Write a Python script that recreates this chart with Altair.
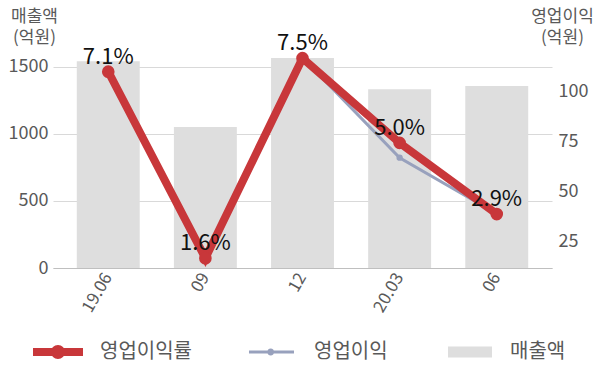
import altair as alt
import pandas as pd

periods = ["19.06", "09", "12", "20.03", "06"]
revenue = [1542, 1052, 1567, 1334, 1358]        # 매출액 (억원)
profit = [110, 17, 117, 67, 39]                 # 영업이익 (억원)
margin = [7.1, 1.6, 7.5, 5.0, 2.9]              # 영업이익률 (%)
legend_names = ["영업이익률", "영업이익", "매출액"]

df = pd.DataFrame({
    "period": periods,
    "revenue": revenue,
    "profit": profit,
    "margin": margin,
    "label": [f"{m:.1f}%" for m in margin],
})
leg_df = pd.DataFrame({"series": legend_names})

FONT = "Noto Sans CJK KR"
RED = "#c8373a"
GRAY_LINE = "#98a1bd"
BAR = "#dedede"
TXT = "#595959"

x = alt.X("period:N", sort=periods, title=None,
          scale=alt.Scale(paddingInner=0.352, paddingOuter=0.245),
          axis=alt.Axis(labelAngle=-60, labelAlign="right", labelBaseline="middle",
                        labelFontSize=17, labelColor=TXT, labelPadding=6,
                        ticks=False, domain=True, domainColor="#bfbfbf", grid=False))

base = alt.Chart(df)

bars = base.mark_bar(color=BAR).encode(
    x=x,
    y=alt.Y("revenue:Q", scale=alt.Scale(domain=[0, 1850], nice=False, zero=False),
            axis=alt.Axis(orient="left", values=[0, 500, 1000, 1500], format="d", grid=True,
                          gridColor="#d9d9d9", domain=False, ticks=False,
                          labelFontSize=18, labelColor=TXT, labelPadding=5,
                          title=["매출액", "(억원)"], titleAngle=0, titleX=-19, titleY=1.5,
                          titleAlign="center", titleBaseline="alphabetic", titleFontSize=17,
                          titleFontWeight="normal", titleColor=TXT, titleLineHeight=21)),
)

pscale = alt.Scale(domain=[11.85, 135.85], nice=False, zero=False)
gray_line = base.mark_line(color=GRAY_LINE, strokeWidth=3).encode(
    x=x,
    y=alt.Y("profit:Q", scale=pscale,
            axis=alt.Axis(orient="right", values=[25, 50, 75, 100], grid=False,
                          domain=False, ticks=False, labelFontSize=18, labelColor=TXT,
                          labelPadding=6,
                          title=["영업이익", "(억원)"], titleAngle=0, titleX=10, titleY=1.5,
                          titleAlign="center", titleBaseline="alphabetic", titleFontSize=17,
                          titleFontWeight="normal", titleColor=TXT, titleLineHeight=21)),
)
gray_pts = base.mark_point(color=GRAY_LINE, filled=True, size=40, opacity=1).encode(
    x=x, y=alt.Y("profit:Q", scale=pscale, axis=None))

mscale = alt.Scale(domain=[1.31, 8.625], nice=False, zero=False)
red_line = base.mark_line(color=RED, strokeWidth=8).encode(
    x=x, y=alt.Y("margin:Q", scale=mscale, axis=None))
red_pts = base.mark_point(color=RED, filled=True, size=160, opacity=1).encode(
    x=x, y=alt.Y("margin:Q", scale=mscale, axis=None))
labels = base.mark_text(fontSize=22, font=FONT, color="#111111", dy=-8,
                        baseline="alphabetic", align="center").encode(
    x=x, y=alt.Y("margin:Q", scale=mscale, axis=None), text="label:N")

red_path = ("M-1.033,-0.133 H0.633 V0.133 H-1.033 Z "
            "M0.033,0 A0.233,0.233 0 1,1 -0.433,0 A0.233,0.233 0 1,1 0.033,0 Z")
gray_path = ("M-0.967,-0.05 H0.533 V0.05 H-0.967 Z "
             "M-0.126,0 A0.117,0.117 0 1,1 -0.36,0 A0.117,0.117 0 1,1 -0.126,0 Z")
rect_path = "M-0.867,-0.183 H0.6 V0.183 H-0.867 Z"

dummy = alt.Chart(leg_df).mark_point(filled=True, opacity=0).encode(
    color=alt.Color("series:N",
                    scale=alt.Scale(domain=legend_names, range=[RED, GRAY_LINE, BAR]),
                    legend=alt.Legend(orient="none", legendX=-19, legendY=302,
                                      direction="horizontal", title=None,
                                      symbolSize=3600, symbolStrokeWidth=0,
                                      symbolOpacity=1, labelOffset=6, columnPadding=56,
                                      labelFontSize=20, labelColor=TXT, labelFont=FONT,
                                      padding=0)),
    shape=alt.Shape("series:N",
                    scale=alt.Scale(domain=legend_names,
                                    range=[red_path, gray_path, rect_path]),
                    legend=None),
)

chart = alt.layer(bars, gray_line, gray_pts, red_line, red_pts, labels, dummy).resolve_scale(
    y="independent"
).properties(
    width=499, height=248,
    padding={"left": 53, "top": 20, "right": 48, "bottom": 95},
    autosize=alt.AutoSizeParams(type="none"),
).configure(
    font=FONT,
).configure_view(stroke=None)

chart.save("out.html", embed_options={"renderer": "svg", "actions": False})
